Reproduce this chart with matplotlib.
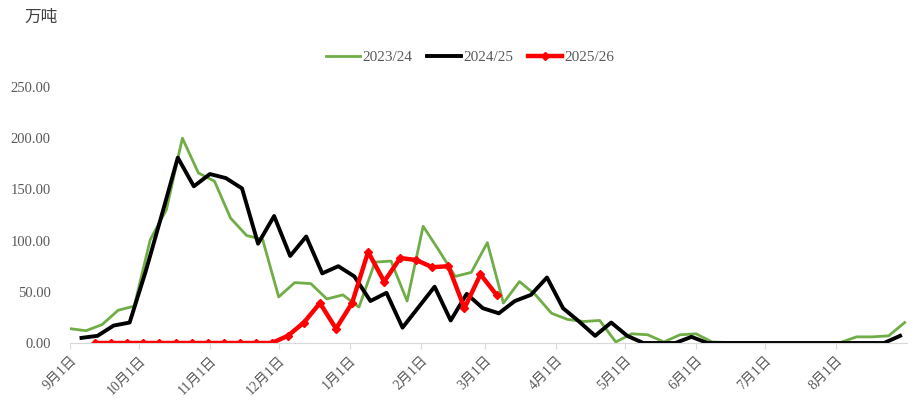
import numpy as np
import matplotlib.pyplot as plt

plt.rcParams['font.family'] = ['Liberation Serif', 'Noto Sans CJK SC']

# weekly values (万吨), x = days since Sep 1
green_start = 0
black_start = 5
red_start = 11

v2324 = [14, 12, 18, 32, 36, 101, 130, 200, 166, 158, 122, 105, 101, 45, 59, 58,
         43, 47, 35, 79, 80, 41, 114, 90, 65, 69, 98, 39, 60, 47, 29, 23, 21, 22,
         1, 9, 8, 1, 8, 9, 1, 0.5, 0.5, 0.3, 0, 0, 0, 0, 0.5, 6, 6, 7, 20]
v2425 = [5, 7, 17, 20, 70, 125, 181, 153, 165, 161, 151, 97, 124, 85, 104, 68,
         75, 65, 41, 49, 15, 35, 55, 22, 48, 34, 29, 41, 47, 64, 34, 21, 7, 20,
         7, 0, 0, 0, 6, 0, 0, 0, 0, 0, 0, 0, 0, 0, 0, 0, 0, 7]
v2526 = [0, 0, 0, 0, 0, 0, 0, 0, 0, 0, 0, 0, 7, 20, 39, 14, 39, 89, 60, 83, 81,
         74, 75, 34, 67, 47]

tick_days = [0, 30, 61, 91, 122, 153, 181, 212, 242, 273, 303, 334]
tick_labels = ['9月1日', '10月1日', '11月1日', '12月1日', '1月1日', '2月1日',
               '3月1日', '4月1日', '5月1日', '6月1日', '7月1日', '8月1日']

x1 = green_start + 7 * np.arange(len(v2324))
x2 = black_start + 7 * np.arange(len(v2425))
x3 = red_start + 7 * np.arange(len(v2526))

fig = plt.figure(figsize=(9.13, 4.0), dpi=100)
ax = fig.add_axes([0.0767, 0.1425, 0.9167, 0.64])

ax.plot(x1, v2324, color='#70AD47', lw=2.0, label='2023/24')
ax.plot(x2, v2425, color='black', lw=2.8, label='2024/25')
ax.plot(x3, v2526, color='#FF0000', lw=3.2, marker='D', markersize=4, label='2025/26')

ax.set_xlim(0, 365)
ax.set_ylim(0, 250)
ax.set_yticks(np.arange(0, 251, 50))
ax.set_yticklabels([f'{v:.2f}' for v in np.arange(0, 251, 50)], color='#595959', fontsize=10.5)
ax.set_xticks(tick_days)
ax.set_xticklabels(tick_labels, rotation=45, ha='right', rotation_mode='anchor',
                   color='#595959', fontsize=10)

for s in ['top', 'right', 'left']:
    ax.spines[s].set_visible(False)
ax.spines['bottom'].set_color('#D9D9D9')
ax.tick_params(axis='y', length=0, pad=14)
ax.tick_params(axis='x', length=4, color='#D9D9D9', pad=4)

fig.text(0.027, 0.955, '万吨', fontsize=12, color='#404040', va='center')
fig.legend(loc='center', bbox_to_anchor=(0.515, 0.857), ncol=3, frameon=False,
           fontsize=11, handlelength=2.2, columnspacing=1.0, handletextpad=0.15,
           labelcolor='#595959')

fig.savefig('out.png', dpi=100)
